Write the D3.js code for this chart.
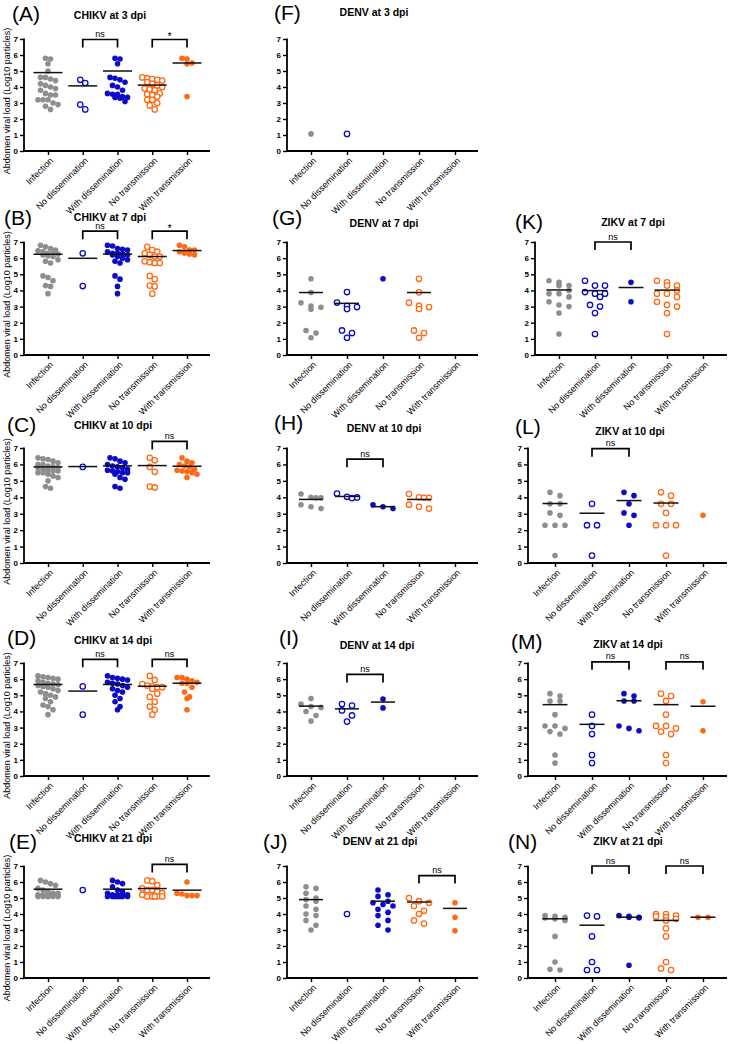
<!DOCTYPE html>
<html><head><meta charset="utf-8">
<script src="https://cdn.jsdelivr.net/npm/d3@7"></script>
<style>body{margin:0;background:#fff}svg{display:block}</style>
</head><body>
<svg id="chart" width="732" height="1044"></svg>
<script>
// ---------------- DATA ----------------
const categories = ["Infection","No dissemination","With dissemination","No transmission","With transmission"];
const yTicks = [0,1,2,3,4,5,6,7];
const yAxisTitle = "Abdomen viral load (Log10 particles)";
const panelIds = ["A","B","C","D","E","F","G","H","I","J","K","L","M","N"];
const panelTitles = ["CHIKV at 3 dpi","CHIKV at 7 dpi","CHIKV at 10 dpi","CHIKV at 14 dpi","CHIKV at 21 dpi",
  "DENV at 3 dpi","DENV at 7 dpi","DENV at 10 dpi","DENV at 14 dpi","DENV at 21 dpi",
  "ZIKV at 7 dpi","ZIKV at 10 dpi","ZIKV at 14 dpi","ZIKV at 21 dpi"];

// values per category: [Infection, No dissemination, With dissemination, No transmission, With transmission]
const valsA = [
  [5.8,5.75,5.45,5.0,4.6,4.6,4.5,4.4,4.2,4.1,4.0,3.9,3.8,3.6,3.5,3.5,3.2,3.2,3.2,3.0,2.9,2.8,2.6],
  [4.45,4.25,2.9,2.6],
  [5.8,5.75,5.45,4.6,4.55,4.45,4.3,4.1,4.0,3.8,3.6,3.55,3.55,3.4,3.35,3.35,3.3,3.1],
  [4.6,4.55,4.5,4.45,4.4,4.3,4.2,4.1,4.0,3.9,3.85,3.8,3.6,3.55,3.5,3.4,3.2,3.2,3.0,2.85,2.6],
  [5.8,5.75,5.5,5.45,3.4]];
const meansA = [4.9,4.07,5.0,4.12,5.5];
const sigA = [[1,2,"ns",6.97],[3,4,"*",6.97]];

const valsB = [
  [6.8,6.7,6.6,6.5,6.45,6.4,6.3,6.3,6.25,6.2,6.15,6.1,5.9,5.8,5.7,4.9,4.8,4.6,4.3,4.25,3.8],
  [6.3,4.27],
  [6.8,6.75,6.6,6.55,6.5,6.4,6.3,6.3,6.25,6.2,6.2,6.1,6.0,5.9,5.8,5.7,4.9,4.7,4.25,3.8],
  [6.7,6.5,6.4,6.3,6.2,6.1,6.1,5.8,5.75,5.7,5.7,4.9,4.7,4.3,4.25,3.8],
  [6.8,6.7,6.5,6.5,6.4,6.3,6.25,6.2]];
const meansB = [6.24,5.99,6.25,6.1,6.47];
const sigB = [[1,2,"ns",7.67],[3,4,"*",7.67]];

const valsC = [
  [6.4,6.35,6.3,6.2,6.1,6.0,6.0,5.9,5.85,5.8,5.8,5.7,5.65,5.6,5.6,5.5,5.5,5.4,5.3,5.2,5.0,4.65,4.55],
  [5.85],
  [6.4,6.35,6.2,6.1,6.0,5.9,5.85,5.8,5.7,5.65,5.6,5.55,5.5,5.5,5.4,5.2,5.1,4.65,4.55],
  [6.4,6.25,5.85,5.55,4.65,4.6],
  [6.4,6.2,6.1,6.0,5.9,5.85,5.7,5.65,5.6,5.55,5.5,5.4,5.2]];
const meansC = [5.85,5.87,5.91,5.93,5.89];
const sigC = [[3,4,"ns",7.4]];

const valsD = [
  [6.2,6.15,6.1,6.05,6.0,5.9,5.8,5.75,5.7,5.65,5.6,5.55,5.5,5.4,5.3,5.2,5.1,5.0,4.9,4.8,4.6,4.4,4.3,4.1,3.8],
  [5.55,3.8],
  [6.2,6.1,6.05,6.0,5.95,5.8,5.75,5.7,5.6,5.5,5.4,5.3,5.2,5.0,4.8,4.6,4.3,4.1],
  [6.2,5.95,5.7,5.6,5.55,5.5,5.5,5.4,5.1,4.9,4.6,4.3,4.1,3.8],
  [6.1,6.1,6.0,5.9,5.8,5.75,5.75,5.5,5.2,4.9,4.8,4.1]];
const meansD = [5.67,5.26,5.67,5.56,5.75];
const sigD = [[1,2,"ns",7.23],[3,4,"ns",7.23]];

const valsE = [
  [6.1,6.0,5.9,5.8,5.6,5.5,5.4,5.3,5.3,5.2,5.2,5.2,5.2,5.2,5.1,5.1,5.1,5.1,5.1,5.1],
  [5.5],
  [6.1,6.0,5.9,5.7,5.5,5.4,5.3,5.2,5.2,5.2,5.2,5.1,5.1,5.1,5.1,5.1,5.1,5.1],
  [6.1,6.05,5.8,5.6,5.5,5.5,5.4,5.3,5.2,5.1,5.1,5.1,5.1,5.1],
  [6.0,5.3,5.25,5.15,5.15,5.15]];
const meansE = [5.55,null,5.55,5.59,5.49];
const sigE = [[3,4,"ns",7.1]];

const valsF = [[1.07],[1.07],[],[],[]];
const meansF = [null,null,null,null,null];
const sigF = [];

const valsG = [
  [4.72,3.87,3.24,3.04,2.96,2.83,1.52,1.36,1.07],
  [3.9,3.25,3.05,2.97,2.85,1.52,1.36,1.07],
  [4.72],
  [4.72,3.88,3.24,3.04,2.97,2.85,1.52,1.36,1.07],
  []];
const meansG = [3.87,3.2,null,3.87,null];
const sigG = [];

const valsH = [
  [4.2,4.0,3.97,3.97,3.55,3.42,3.31],
  [4.23,4.03,3.99,3.95],
  [3.54,3.42,3.31],
  [4.2,4.0,3.97,3.97,3.55,3.42,3.31],
  []];
const meansH = [3.87,4.05,3.43,3.87,null];
const sigH = [[1,2,"ns",6.32]];

const valsI = [
  [4.8,4.45,4.3,4.25,4.0,3.75,3.4],
  [4.46,4.36,4.06,3.75,3.37],
  [4.77,4.22],
  [],
  []];
const meansI = [4.33,4.16,4.58,null,null];
const sigI = [[1,2,"ns",6.29]];

const valsJ = [
  [5.7,5.6,5.3,5.0,4.9,4.8,4.5,4.3,4.0,3.9,3.6,3.3,3.0],
  [4.0],
  [5.5,5.2,5.1,4.8,4.7,4.6,4.5,4.3,4.1,3.9,3.6,3.3,3.0],
  [5.0,4.8,4.7,4.5,4.2,4.0,3.6,3.4],
  [4.7,3.8,2.95]];
const meansJ = [4.9,null,4.8,4.75,4.35];
const sigJ = [[3,4,"ns",6.4]];

const valsK = [
  [4.6,4.5,4.3,4.3,4.0,3.8,3.8,3.6,3.3,3.1,3.0,2.6,1.3],
  [4.6,4.3,4.3,3.9,3.8,3.8,3.6,3.1,3.0,2.6,1.3],
  [4.5,3.3],
  [4.6,4.5,4.3,4.3,4.0,3.8,3.8,3.6,3.3,3.1,3.0,2.6,1.3],
  []];
const meansK = [4.03,3.99,4.18,4.02,null];
const sigK = [[1,2,"ns",7.0]];

const valsL = [
  [4.3,4.1,3.6,3.6,3.05,2.9,2.3,2.3,2.3,0.45],
  [3.6,2.3,2.3,0.45],
  [4.3,4.1,3.6,3.05,2.9,2.3],
  [4.3,4.1,3.6,3.6,3.05,2.3,2.3,2.3,0.45],
  [2.9]];
const meansL = [3.62,3.03,3.8,3.65,null];
const sigL = [[1,2,"ns",6.96]];

const valsM = [
  [5.1,4.95,4.65,4.65,3.8,3.1,3.1,2.95,2.75,2.6,1.3,0.8],
  [3.8,3.1,2.6,1.3,0.8],
  [5.1,4.95,4.65,4.65,3.1,2.95,2.8],
  [5.1,4.95,4.65,3.8,3.1,3.1,2.95,2.75,2.6,1.3,0.8],
  [4.6,2.8]];
const meansM = [4.42,3.2,4.66,4.42,4.32];
const sigM = [[1,2,"ns",7.07],[3,4,"ns",7.07]];

const valsN = [
  [3.9,3.85,3.8,3.75,3.7,3.6,2.6,1.0,0.55,0.5],
  [3.9,3.85,2.6,1.0,0.5,0.5],
  [3.9,3.85,3.8,3.8,3.75,0.8],
  [4.0,4.0,3.9,3.85,3.8,3.7,3.6,3.1,2.6,1.0,0.6,0.5],
  [3.8,3.8]];
const meansN = [3.7,3.3,3.8,3.6,3.8];
const sigN = [[1,2,"ns",7.0],[3,4,"ns",7.0]];

const panelVals = [valsA,valsB,valsC,valsD,valsE,valsF,valsG,valsH,valsI,valsJ,valsK,valsL,valsM,valsN];
const panelMeans = [meansA,meansB,meansC,meansD,meansE,meansF,meansG,meansH,meansI,meansJ,meansK,meansL,meansM,meansN];
const panelSig = [sigA,sigB,sigC,sigD,sigE,sigF,sigG,sigH,sigI,sigJ,sigK,sigL,sigM,sigN];

// ---------------- LAYOUT (pixels) ----------------
const colCfg = [
  {ax:24, c0:48, c1:187, right:210, sp:5, cap:5, half:14.5},
  {ax:287, c0:311, c1:455, right:478, sp:10, cap:3, half:12},
  {ax:528, c0:555, c1:703, right:727, sp:10, cap:3, half:12.5}];
const rowCfg = [{t:39,b:151},{t:242,b:355},{t:448,b:563},{t:663,b:776},{t:866,b:978}];
const layout = {
  A:{c:0,r:0,tx:110,ty:15,lx:12,ly:14}, B:{c:0,r:1,tx:110,ty:217,lx:4,ly:218},
  C:{c:0,r:2,tx:113,ty:425,lx:7,ly:425}, D:{c:0,r:3,tx:113,ty:640,lx:7,ly:638},
  E:{c:0,r:4,tx:113,ty:838,lx:9,ly:842},
  F:{c:1,r:0,tx:374,ty:12,lx:274,ly:13}, G:{c:1,r:1,tx:384,ty:223,lx:272,ly:218},
  H:{c:1,r:2,tx:384,ty:428,lx:274,ly:423}, I:{c:1,r:3,tx:377,ty:645,lx:279,ly:638},
  J:{c:1,r:4,tx:380,ty:841,lx:263,ly:842},
  K:{c:2,r:1,tx:633,ty:222,lx:515,ly:222,ax:535,c0:559}, L:{c:2,r:2,tx:630,ty:431,lx:515,ly:427},
  M:{c:2,r:3,tx:628,ty:644,lx:511,ly:642}, N:{c:2,r:4,tx:628,ty:841,lx:508,ly:842}};

const GRAY="#8e8e8e", BLUE="#0c0cc8", ORANGE="#ff6a14";
const catStyle = [
  {color:GRAY, open:false},{color:BLUE, open:true},{color:BLUE, open:false},
  {color:ORANGE, open:true},{color:ORANGE, open:false}];

const FONT = "'Liberation Sans', Arial, sans-serif";
const svg = d3.select("#chart");

// deterministic dot-plot layout: group close values into rows, spread each row symmetrically
function swarm(vals, y, sp, h, cap) {
  const sorted = vals.slice().sort((a,b)=>b-a);
  const rows = [];
  let cur = null;
  sorted.forEach(v => {
    const py = y(v);
    if (cur && py - cur.start <= h && cur.items.length < cap) cur.items.push(v);
    else {
      const shift = (cur && py - cur.start <= h) ? !cur.shift : false;
      cur = {start:py, items:[v], shift}; rows.push(cur);
    }
  });
  const out = [];
  rows.forEach(rw => {
    const n = rw.items.length;
    const off = rw.shift ? sp/2 : 0;
    rw.items.forEach((v,i) => out.push({v, dx:(i-(n-1)/2)*sp + (n < cap ? off : 0)}));
  });
  return out;
}

panelIds.forEach((id, pi) => {
  const L = layout[id];
  const cc = colCfg[L.c], rc = rowCfg[L.r];
  const ax = L.ax ?? cc.ax, c0 = L.c0 ?? cc.c0;
  const g = svg.append("g");
  const y = d3.scaleLinear().domain([0,7]).range([rc.b, rc.t]);
  const x = d3.scalePoint().domain(categories).range([c0, cc.c1]);

  const yAx = g.append("g").attr("transform",`translate(${ax},0)`)
    .call(d3.axisLeft(y).tickValues(yTicks).tickFormat(d3.format("d")).tickSize(4).tickPadding(2));
  yAx.select(".domain").attr("stroke","#000").attr("stroke-width",1.8).attr("d",`M0,${rc.t-0.5}V${rc.b}`);
  yAx.selectAll(".tick line").attr("stroke","#000").attr("stroke-width",1.4);
  yAx.selectAll(".tick text").attr("font-family",FONT).attr("font-size",8).attr("font-weight","bold").attr("fill","#000");

  const xAx = g.append("g").attr("transform",`translate(0,${rc.b})`)
    .call(d3.axisBottom(x).tickSize(4).tickFormat(""));
  xAx.select(".domain").attr("stroke","#000").attr("stroke-width",1.8).attr("d",`M${ax-0.9},0H${cc.right}`);
  xAx.selectAll(".tick line").attr("stroke","#000").attr("stroke-width",1.4);
  xAx.selectAll(".tick").append("text")
    .attr("transform","translate(3,8) rotate(-45)")
    .attr("text-anchor","end").attr("dy","0.35em")
    .attr("font-family",FONT).attr("font-size",9).attr("fill","#000")
    .text(d=>d);

  if (L.c === 0) {
    g.append("text")
      .attr("transform",`translate(10,${(rc.t+rc.b)/2+6}) rotate(-90)`)
      .attr("text-anchor","middle").attr("font-family",FONT).attr("font-size",9).attr("fill","#000")
      .text(yAxisTitle);
  }

  g.append("text").attr("x",L.tx).attr("y",L.ty).attr("dy","0.35em").attr("text-anchor","middle")
    .attr("font-family",FONT).attr("font-size",10.5).attr("font-weight","bold").attr("fill","#000")
    .text(panelTitles[pi]);
  g.append("text").attr("x",L.lx).attr("y",L.ly).attr("dy","0.35em").attr("text-anchor","start")
    .attr("font-family",FONT).attr("font-size",21).attr("fill","#000")
    .text("(" + id + ")");

  const vals = panelVals[pi];
  vals.forEach((arr, ci) => {
    const st = catStyle[ci];
    const pts = swarm(arr, y, cc.sp, 5.5, cc.cap);
    g.append("g").selectAll("circle").data(pts).join("circle")
      .attr("cx", d => x(categories[ci]) + d.dx)
      .attr("cy", d => y(d.v))
      .attr("r", st.open ? 2.7 : 2.8)
      .attr("fill", st.open ? "#fff" : st.color)
      .attr("stroke", st.open ? st.color : "none")
      .attr("stroke-width", 1.3);
  });

  panelMeans[pi].forEach((m, ci) => {
    if (m == null) return;
    const cx = x(categories[ci]);
    g.append("line").attr("x1",cx-cc.half).attr("x2",cx+cc.half)
      .attr("y1",y(m)).attr("y2",y(m)).attr("stroke","#111").attr("stroke-width",1.5);
  });

  panelSig[pi].forEach(([a,b,lab,lv]) => {
    const xa = x(categories[a]), xb = x(categories[b]), yy = y(lv);
    g.append("path").attr("d",`M${xa},${yy+8}V${yy}H${xb}V${yy+8}`)
      .attr("fill","none").attr("stroke","#000").attr("stroke-width",1.7);
    g.append("text").attr("x",(xa+xb)/2).attr("y", lab === "*" ? yy + 1 : yy - 2.5)
      .attr("text-anchor","middle").attr("font-family",FONT)
      .attr("font-size", lab === "*" ? 11 : 9).attr("fill","#000")
      .text(lab);
  });
});
</script>
</body></html>
